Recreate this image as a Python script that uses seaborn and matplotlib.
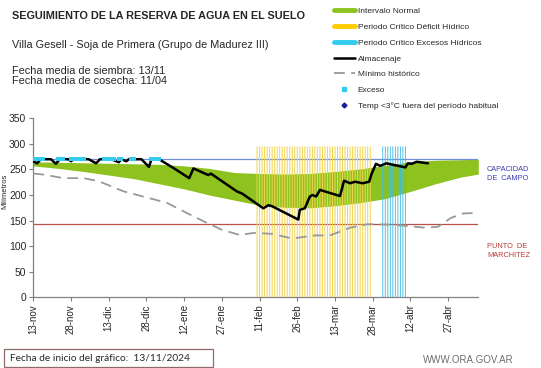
import matplotlib
matplotlib.use("Agg")
import matplotlib.pyplot as plt
from matplotlib.lines import Line2D
from matplotlib.patches import Rectangle
import seaborn as sns

# --- datos: días desde el 13/11/2024 ---
tick_days = [0, 15, 30, 45, 60, 75, 90, 105, 120, 135, 150, 165]
tick_labels = ["13-nov", "28-nov", "13-dic", "28-dic", "12-ene", "27-ene",
               "11-feb", "26-feb", "13-mar", "28-mar", "12-abr", "27-abr"]

# intervalo normal (banda verde)
band_days = [0, 10, 20, 30, 40, 50, 60, 70, 80, 90, 100, 110, 120, 130, 140, 150, 160, 170, 177]
band_upper = [265, 264, 263, 262, 261, 260, 257, 252, 244, 242, 241, 242, 246, 251, 258, 265, 268, 269, 270]
band_lower = [257, 252, 246, 239, 232, 222, 212, 200, 190, 180, 176, 175, 179, 185, 193, 207, 222, 235, 241]

# minimo historico
min_days = [0, 4, 12, 20, 26, 36, 46, 53, 61, 68, 75, 82, 88, 95, 103, 112, 118, 126,
            133, 142, 150, 156, 161, 166, 171, 177]
min_vals = [242, 240, 233, 233, 227, 207, 194, 185, 165, 148, 132, 122, 126, 124, 115, 121,
            121, 136, 143, 142, 139, 136, 138, 155, 164, 165]

# almacenaje
alm_days = [0, 1.5, 3, 7, 9, 10.5, 14, 15, 16, 22, 25, 26.5, 31, 34, 35, 37, 38, 43, 46, 47,
            50, 56, 62, 63.7, 69.6, 70.6, 81, 83, 91.5, 93.5, 95, 105.4, 106, 108, 110, 111,
            112.5, 114, 122, 123.6, 126, 128, 131, 133.6, 134.6, 136.3, 138, 140.4, 148, 149,
            150.5, 152.5, 157]
alm_vals = [266, 262, 270, 270, 261, 270, 270, 266, 270, 270, 262, 270, 270, 264, 270, 266,
            270, 270, 255, 270, 270, 252, 233, 252, 239, 242, 207, 203, 174, 180, 178, 152,
            171, 174, 197, 200, 197, 210, 198, 228, 223, 226, 223, 226, 242, 261, 257, 262,
            254, 262, 261, 265, 262]

# dias con exceso
exceso_days = [0, 1, 2, 3, 4, 10, 11, 12, 15, 16, 17, 18, 19, 20, 28, 29, 30, 31, 32,
               34, 35, 39, 40, 47, 48, 49, 50]

# periodos criticos
deficit_days = list(range(89, 135))
excesos_days = list(range(139, 149))
periodo_top = 295

capacidad = 270
marchitez = 143

sns.set_style("white")
plt.rcParams['font.family'] = ['Liberation Sans', 'DejaVu Sans']

W, H = 541, 368
fig = plt.figure(figsize=(W / 100, H / 100), dpi=100)
ax = fig.add_axes([33.3 / W, 1 - 297.3 / H, 445 / W, 179 / H])

ax.fill_between(band_days, band_lower, band_upper, color='#8DC21F', lw=0, zorder=1)
ax.axhline(capacidad, color='#6F8FD8', lw=0.9, zorder=2)
ax.axhline(marchitez, color='#B8504A', lw=0.9, zorder=2)

b1 = ax.bar(deficit_days, [periodo_top] * len(deficit_days), width=0.4,
            color='#F0D550', lw=0, zorder=3)
b2 = ax.bar(excesos_days, [periodo_top] * len(excesos_days), width=0.35,
            color='#3FBCE0', lw=0, zorder=3)
for r in list(b1) + list(b2):
    r.set_snap(False)

sns.lineplot(x=min_days, y=min_vals, ax=ax, color='#999999', linewidth=1.3, zorder=4)
ax.lines[-1].set_dashes([6, 3.5])
sns.lineplot(x=alm_days, y=alm_vals, ax=ax, color='black', linewidth=1.8, zorder=5)
sns.scatterplot(x=exceso_days, y=[capacidad] * len(exceso_days), ax=ax, marker='s',
                s=5, color='#33CCEE', linewidth=0, zorder=6)

ax.set_xlim(0, 177)
ax.set_ylim(0, 350)
ax.set_xticks(tick_days)
ax.set_xticklabels(tick_labels, rotation=90, fontsize=7)
ax.set_yticks(range(0, 351, 50))
ax.tick_params(axis='y', labelsize=7.5, length=3, color='#808080', pad=2, left=True)
ax.tick_params(axis='x', length=3, color='#808080', pad=2, bottom=True)
for s in ['top', 'right']:
    ax.spines[s].set_visible(False)
for s in ['left', 'bottom']:
    ax.spines[s].set_color('#808080')
    ax.spines[s].set_linewidth(0.9)
ax.set_ylabel("Milímetros", fontsize=5.5, labelpad=2)
ax.yaxis.set_label_coords(-0.055, 0.59)

# textos de cabecera
fig.text(12 / W, 1 - 16 / H, "SEGUIMIENTO DE LA RESERVA DE AGUA EN EL SUELO",
         fontsize=7.8, fontweight='bold', va='center')
fig.text(12 / W, 1 - 45.5 / H, "Villa Gesell - Soja de Primera (Grupo de Madurez III)",
         fontsize=7.8, va='center')
fig.text(12 / W, 1 - 71 / H, "Fecha media de siembra: 13/11", fontsize=7.8, va='center')
fig.text(12 / W, 1 - 81.5 / H, "Fecha media de cosecha: 11/04", fontsize=7.8, va='center')

fig.text(487 / W, 1 - 170 / H, "CAPACIDAD", fontsize=5.3, color='#3B3BB0', va='center')
fig.text(487 / W, 1 - 179 / H, "DE  CAMPO", fontsize=5.3, color='#3B3BB0', va='center')
fig.text(487 / W, 1 - 246.5 / H, "PUNTO  DE", fontsize=5.3, color='#B83A3A', va='center')
fig.text(487 / W, 1 - 255.5 / H, "MARCHITEZ", fontsize=5.3, color='#B83A3A', va='center')

# leyenda
handles = [
    Line2D([], [], color='#8DC21F', lw=3.5),
    Line2D([], [], color='#FFCC00', lw=3.5),
    Line2D([], [], color='#33CCEE', lw=3.5),
    Line2D([], [], color='black', lw=1.8),
    Line2D([], [], color='#999999', lw=1.3, dashes=[6, 3.5]),
    Line2D([], [], color='#33CCEE', marker='s', ms=2.2, lw=0),
    Line2D([], [], color='#1A1A99', marker='D', ms=2.5, lw=0),
]
labels = ["Intervalo Normal", "Periodo Crítico Déficit Hídrico",
          "Periodo Crítico Excesos Hídricos", "Almacenaje", "Mínimo histórico",
          "Exceso", "Temp <3°C fuera del período habitual"]
fig.legend(handles, labels, loc='upper left', bbox_to_anchor=(331 / W, 1 - 5 / H),
           frameon=False, fontsize=6, handlelength=2.6, handletextpad=0.3,
           labelspacing=0.95, borderpad=0.3, borderaxespad=0)

# pie
fig.patches.append(Rectangle((3.5 / W, 1 - 367 / H), 209 / W, 18 / H,
                             transform=fig.transFigure, fill=False,
                             edgecolor='#8C6A6A', lw=0.9))
fig.text(10 / W, 1 - 358.3 / H, "Fecha de inicio del gráfico:  13/11/2024",
         fontsize=7.3, family=['Lato', 'DejaVu Sans'], va='center')
fig.text(423 / W, 1 - 360 / H, "WWW.ORA.GOV.AR", fontsize=7, color='#6E6E6E', va='center')

fig.savefig("out.png", dpi=100)
